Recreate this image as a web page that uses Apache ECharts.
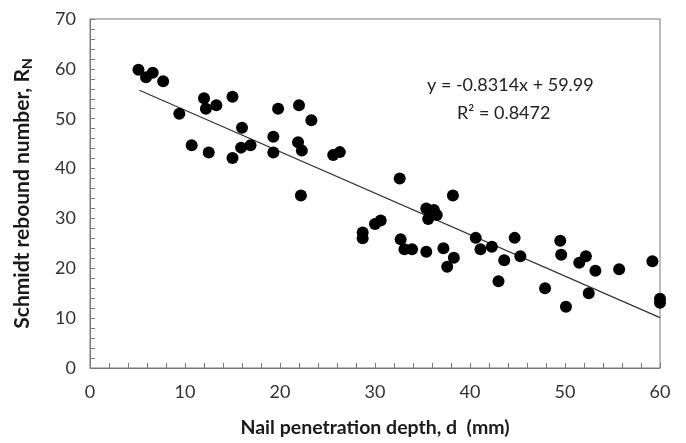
<!DOCTYPE html>
<html>
<head>
<meta charset="utf-8">
<script src="https://cdn.jsdelivr.net/npm/echarts@6/dist/echarts.min.js"></script>
<style>
	html, body { margin: 0; padding: 0; background: #fff; }
	#chart { width: 686px; height: 443px; }
</style>
</head>
<body>
<div id="chart"></div>
<script>
// Data
var depth = [5.1, 5.9, 6.6, 7.7, 9.4, 10.7, 12.0, 12.2, 13.3, 15.0, 16.0, 12.5, 15.0, 15.9, 16.9,
	19.3, 19.3, 19.8, 22.0, 21.9, 22.3, 23.3, 22.2, 25.6, 26.3,
	32.6, 28.7, 28.7, 30.0, 30.6, 32.7, 33.1, 33.9, 35.4, 35.4, 36.2, 36.5, 35.6, 38.2,
	37.2, 38.3, 37.6, 40.6, 41.1, 42.3, 43.6, 43.0, 44.7, 45.3,
	49.5, 49.6, 47.9, 51.5, 52.2, 53.2, 52.5, 50.1, 55.7, 59.2, 60.0, 60.0];
var rebound = [59.8, 58.3, 59.2, 57.5, 51.0, 44.7, 54.1, 52.0, 52.7, 54.4, 48.2, 43.2, 42.1, 44.2, 44.7,
	46.4, 43.2, 52.0, 52.7, 45.3, 43.6, 49.7, 34.6, 42.7, 43.3,
	38.0, 27.2, 26.0, 28.9, 29.6, 25.8, 23.8, 23.8, 23.3, 32.0, 31.7, 30.7, 29.9, 34.6,
	24.0, 22.1, 20.3, 26.1, 23.8, 24.3, 21.6, 17.4, 26.1, 22.4,
	25.5, 22.7, 16.0, 21.1, 22.4, 19.5, 15.0, 12.3, 19.8, 21.4, 13.9, 13.1];
var trendX = [5.2, 60];
var trendY = [55.7, 10.1];
var xTicks = [0, 10, 20, 30, 40, 50, 60];
var yTicks = [0, 10, 20, 30, 40, 50, 60, 70];
var eqText = 'y = -0.8314x + 59.99';
var r2Text = 'R\u00B2 = 0.8472';

var font = 'Lato, "Open Sans", sans-serif';
var frame = '#7a7a7a';

function Pairs(xs, ys) {	// zip two arrays into [x, y] points
	let out = [];
	for (let i = 0; i < xs.length; i++) {
		out.push([xs[i], ys[i]]);
	}
	return out;
}

var chart = echarts.init(document.getElementById('chart'), null, { renderer: 'canvas' });

chart.setOption({
	animation: false,
	grid: {
		left: 90,
		right: 26,
		top: 19,
		bottom: 73,
		show: true,
		borderColor: frame,
		borderWidth: 1
	},
	xAxis: {
		type: 'value',
		min: xTicks[0],
		max: xTicks[xTicks.length - 1],
		interval: 10,
		name: 'Nail penetration depth, d  (mm)',
		nameLocation: 'middle',
		nameGap: 50,
		nameTextStyle: { fontFamily: font, fontSize: 19.5, fontWeight: 'bold', color: '#1a1a1a' },
		axisLine: { show: true, lineStyle: { color: frame, width: 1 } },
		axisTick: { show: true, inside: true, length: 5, lineStyle: { color: frame } },
		minorTick: { show: true, splitNumber: 5, length: 5, lineStyle: { color: frame } },
		splitLine: { show: false },
		axisLabel: { fontFamily: font, fontSize: 18, color: '#333', margin: 15 }
	},
	yAxis: {
		type: 'value',
		min: yTicks[0],
		max: yTicks[yTicks.length - 1],
		interval: 10,
		name: '{a|Schmidt rebound number, R}{s|N}',
		nameLocation: 'middle',
		nameGap: 56,
		nameRotate: 90,
		nameTextStyle: {
			rich: {
				a: { fontFamily: font, fontSize: 21, fontWeight: 'bold', color: '#1a1a1a' },
				s: { fontFamily: font, fontSize: 14, fontWeight: 'bold', color: '#1a1a1a', verticalAlign: 'bottom', padding: [9, 0, 0, 0] }
			}
		},
		axisLine: { show: true, lineStyle: { color: frame, width: 1 } },
		axisTick: { show: true, inside: true, length: 5, lineStyle: { color: frame } },
		minorTick: { show: true, splitNumber: 5, length: 5, lineStyle: { color: frame } },
		splitLine: { show: false },
		axisLabel: { fontFamily: font, fontSize: 18, color: '#333', margin: 14 }
	},
	series: [
		{
			name: 'Data',
			type: 'scatter',
			data: Pairs(depth, rebound),
			symbol: 'circle',
			symbolSize: 12,
			itemStyle: { color: '#000', opacity: 1 },
			clip: false,
			z: 3
		},
		{
			name: 'Trend',
			type: 'line',
			data: Pairs(trendX, trendY),
			symbol: 'none',
			lineStyle: { color: '#333', width: 1.2 },
			z: 2
		}
	],
	graphic: [
		{
			type: 'text',
			left: 427,
			top: 76,
			style: { text: eqText, fontFamily: font, fontSize: 18, fill: '#222' }
		},
		{
			type: 'text',
			left: 457,
			top: 104,
			style: { text: r2Text, fontFamily: font, fontSize: 18, fill: '#222' }
		}
	]
});
</script>
</body>
</html>
